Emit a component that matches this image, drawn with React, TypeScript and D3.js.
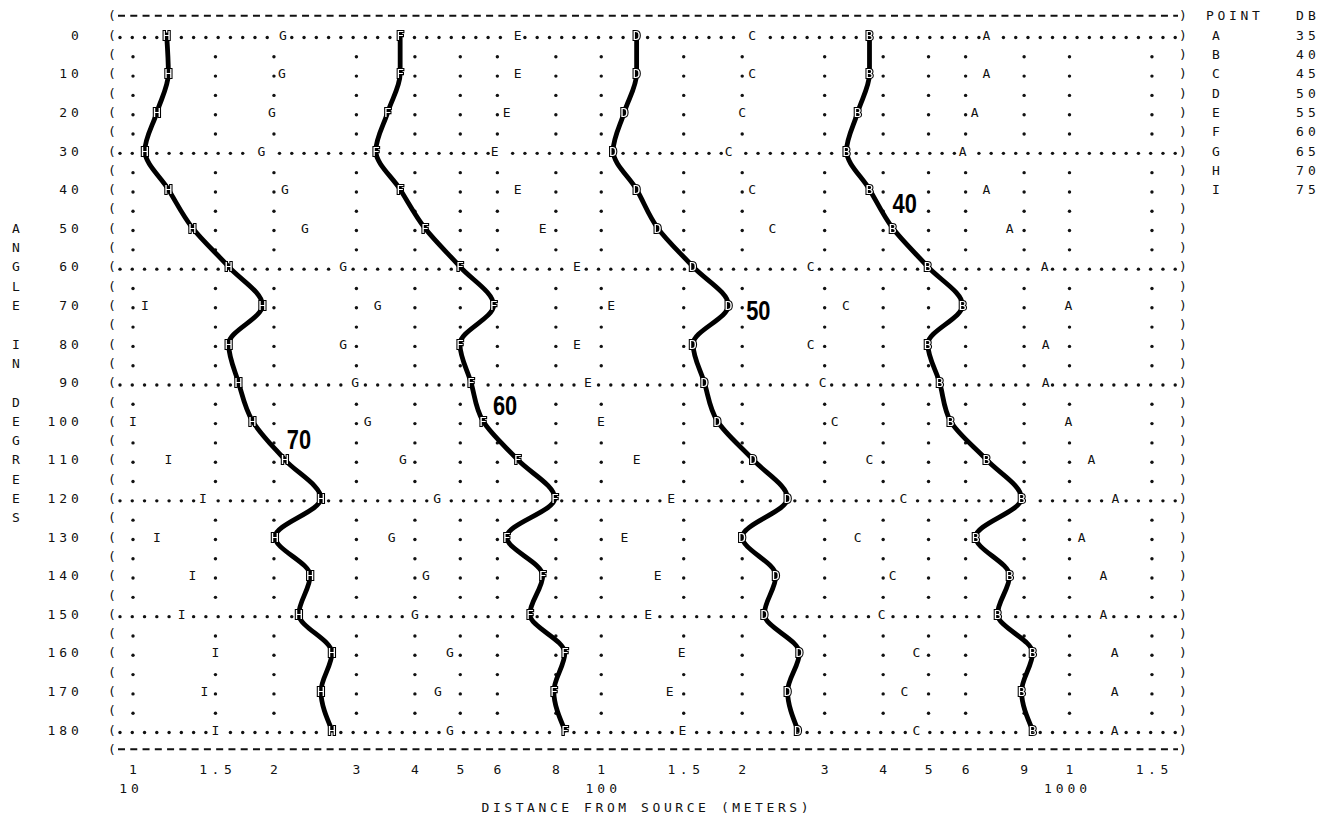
import React from "react";
import * as d3 from "d3";

// angle rows printed on the plot (degrees)
const angles = [0, 10, 20, 30, 40, 50, 60, 70, 80, 90, 100, 110, 120, 130, 140, 150, 160, 170, 180];

// distance (m) of each printed point letter, per angle row
const pointA = [665, 665, 627, 591, 665, 745, 885, 995, 889, 889, 995, 1114, 1254, 1061, 1182, 1182, 1248, 1248, 1248];
const pointB = [374, 374, 353, 334, 374, 419, 498, 591, 498, 528, 557, 665, 790, 630, 745, 702, 834, 790, 834];
const pointC = [210, 210, 200, 187, 210, 232, 280, 333, 280, 297, 315, 374, 442, 353, 419, 397, 471, 444, 471];
const pointD = [119, 119, 112, 106, 119, 132, 157, 187, 157, 166, 177, 211, 250, 200, 236, 223, 265, 250, 263];
const pointE = [66.3, 66.3, 62.8, 59.2, 66.3, 75.0, 88.7, 105, 88.7, 93.6, 99.8, 119, 141, 112, 132, 126, 148.5, 140, 149];
const pointF = [37.2, 37.2, 35.0, 33.0, 37.2, 42.0, 49.9, 58.9, 49.9, 52.7, 55.9, 66.3, 79.6, 62.8, 75.0, 70.4, 83.6, 79.2, 83.6];
const pointG = [20.9, 20.8, 19.8, 18.8, 21.1, 23.3, 28.1, 33.3, 28.1, 29.8, 31.7, 37.7, 44.6, 35.7, 42.2, 40.0, 47.5, 44.8, 47.5];
const pointH = [11.8, 11.9, 11.25, 10.6, 11.9, 13.4, 16.0, 18.9, 16.0, 16.8, 18.0, 21.1, 25.2, 20.1, 23.9, 22.6, 26.6, 25.2, 26.6];
const pointI = [null, null, null, null, null, null, null, 10.6, null, null, 10.0, 11.9, 14.1, 11.25, 13.4, 12.7, 15.0, 14.2, 15.0];

const pointLetters = ["A", "B", "C", "D", "E", "F", "G", "H", "I"];
const pointSeries = [pointA, pointB, pointC, pointD, pointE, pointF, pointG, pointH, pointI];
const legendDb = ["35", "40", "45", "50", "55", "60", "65", "70", "75"];

// hand drawn contours
const contourLetters = ["B", "D", "F", "H"];
const contourLabels = ["40", "50", "60", "70"];
const contourLabelDist = [419, 204, 58.7, 21.3];
const contourLabelAngle = [46.1, 73.8, 98.4, 107.2];

const tickValues = [10, 15, 20, 30, 40, 50, 60, 80, 100, 150, 200, 300, 400, 500, 600, 800, 1000, 1500];
const tickLabels = ["1", "1.5", "2", "3", "4", "5", "6", "8", "1", "1.5", "2", "3", "4", "5", "6", "9", "1", "1.5"];
const decadeValues = [10, 100, 1000];
const decadeLabels = ["10", "100", "1000"];

const W = 1332, H = 825;
const PITCH = 12.27;
const MONO = "'DejaVu Sans Mono', monospace";
const FS = 13;
const DY = 4.7;

const glyphXs = (text: string, cx: number, pitch: number) =>
    text.split("").map((_, i) => cx + (i - (text.length - 1) / 2) * pitch);

const App = () => {
    const x = d3.scaleLog().domain([10, 1000]).range([133, 1069.5]);
    const y = d3.scaleLinear().domain([0, 180]).range([35, 730]);

    const cols = d3.range(87).map(k => 120 + k * PITCH);
    const halfRows = d3.range(-5, 186, 5);
    const gridRows = d3.range(0, 181, 5);
    const dottedRows = angles.filter(a => a % 30 === 0);

    // letter pixel positions per angle
    const lettersAt = new Map<number, number[]>();
    angles.forEach((a, i) => {
        lettersAt.set(a, pointSeries.map(s => s[i]).filter(v => v != null).map(v => x(v as number)));
    });
    const nearLetter = (a: number, px: number, tol: number) =>
        (lettersAt.get(a) || []).some(lx => Math.abs(lx - px) < tol);

    const dots: [number, number][] = [];
    dottedRows.forEach(a => cols.forEach(cx => {
        if (!nearLetter(a, cx, 6.5)) dots.push([cx, y(a)]);
    }));
    gridRows.filter(a => a % 30 !== 0).forEach(a => tickValues.forEach(v => {
        const px = x(v);
        if (!nearLetter(a, px, 7)) dots.push([px, y(a)]);
    }));

    const line = d3.line<[number, number]>()
        .x(d => x(d[0]))
        .y(d => y(d[1]))
        .curve(d3.curveMonotoneY);

    const curves = contourLetters.map(l => {
        const s = pointSeries[pointLetters.indexOf(l)];
        return line(angles.map((a, i) => [s[i] as number, a]));
    });

    const plainLetters: { l: string, px: number, py: number }[] = [];
    const curveLetters: { l: string, px: number, py: number }[] = [];
    pointSeries.forEach((s, li) => s.forEach((v, i) => {
        if (v == null) return;
        const item = { l: pointLetters[li], px: x(v), py: y(angles[i]) };
        (contourLetters.includes(pointLetters[li]) ? curveLetters : plainLetters).push(item);
    }));

    const vTitle = "ANGLE IN DEGREES";

    return (
        <svg width={W} height={H} style={{ position: "absolute", left: 0, top: 0, background: "#fff" }}
             fontFamily={MONO} fontSize={FS} fill="#111">
            <defs>
                {/* rasterise through a filter so the glyphs get greyscale antialiasing */}
                <filter id="gray" x={0} y={0} width={W} height={H} filterUnits="userSpaceOnUse">
                    <feOffset dx={0} dy={0} />
                </filter>
            </defs>
            {/* borders */}
            {[-5, 185].map(a => (
                <line key={a} x1={118} x2={1178} y1={y(a)} y2={y(a)} stroke="#111"
                      strokeWidth={1.9} strokeDasharray="7 5.27" />
            ))}
            {halfRows.map(a => (
                <g key={a}>
                    <text x={112} y={y(a) + DY} textAnchor="middle">(</text>
                    <text x={1183} y={y(a) + DY} textAnchor="middle">)</text>
                </g>
            ))}

            {/* dotted grid */}
            {dots.map((d, i) => <circle key={i} cx={d[0]} cy={d[1] + 2.5} r={1.7} fill="#111" />)}

            {/* y labels */}
            {angles.map(a => {
                const t = String(a);
                const xs = t.split("").map((_, i) => 75 - (t.length - 1 - i) * 11.8);
                return <text key={a} x={xs.join(" ")} y={y(a) + DY} textAnchor="middle">{t}</text>;
            })}
            {vTitle.split("").map((c, i) => c === " " ? null : (
                <text key={i} x={16} y={y(50 + i * 5) + DY} textAnchor="middle">{c}</text>
            ))}

            {/* x labels */}
            {tickValues.map((v, i) => (
                <text key={v} x={glyphXs(tickLabels[i], x(v), 12.4).join(" ")} y={769 + DY}
                      textAnchor="middle">{tickLabels[i]}</text>
            ))}
            {decadeValues.map((v, i) => {
                const t = decadeLabels[i];
                return <text key={v} x={glyphXs(t, x(v) - (t.length % 2 === 0 ? 4 : 0), 11.8).join(" ")}
                             y={788 + DY} textAnchor="middle">{t}</text>;
            })}
            <text x={glyphXs("DISTANCE FROM SOURCE (METERS)", 645, 11.4).join(" ")} y={807 + DY}
                  textAnchor="middle">DISTANCE FROM SOURCE (METERS)</text>

            {/* legend */}
            <text x={glyphXs("POINT", 1233, 11.5).join(" ")} y={y(-5) + DY} textAnchor="middle">POINT</text>
            <text x={glyphXs("DB", 1306, 12).join(" ")} y={y(-5) + DY} textAnchor="middle">DB</text>
            {pointLetters.map((l, i) => (
                <g key={l}>
                    <text x={1216} y={y(i * 5) + DY} textAnchor="middle">{l}</text>
                    <text x={glyphXs(legendDb[i], 1306, 12).join(" ")} y={y(i * 5) + DY}
                          textAnchor="middle">{legendDb[i]}</text>
                </g>
            ))}

            {/* printed points */}
            {plainLetters.map((p, i) => (
                <text key={i} x={p.px} y={p.py + DY} textAnchor="middle">{p.l}</text>
            ))}

            {/* contours */}
            {curves.map((d, i) => (
                <path key={i} d={d || ""} fill="none" stroke="#000" strokeWidth={4.8}
                      strokeLinecap="round" strokeLinejoin="round" />
            ))}
            <g filter="url(#gray)">
                {curveLetters.map((p, i) => (
                    <text key={i} x={p.px} y={p.py + DY} textAnchor="middle" fill="#fff" stroke="#000"
                          strokeWidth={2.2} paintOrder="stroke">{p.l}</text>
                ))}
            </g>
            {contourLabels.map((t, i) => (
                <text key={t} transform={`translate(${x(contourLabelDist[i])},${y(contourLabelAngle[i])}) scale(0.84,1.04)`}
                      fontFamily="'Liberation Sans', Arial, sans-serif"
                      fontWeight="bold" fontSize={26} fill="#000">{t}</text>
            ))}
        </svg>
    );
};

export default App;
